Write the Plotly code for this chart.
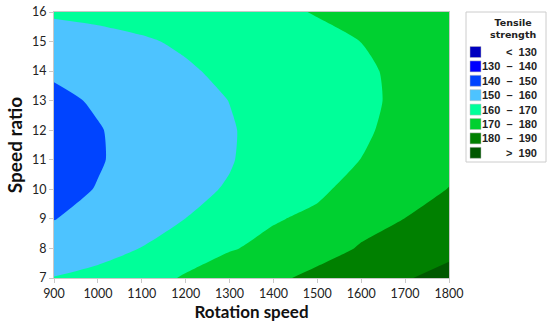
import plotly.graph_objects as go

rotation_speed = [900, 1000, 1100, 1200, 1300, 1400, 1500, 1600, 1700, 1800]
speed_ratio = [7, 8, 9, 10, 11, 12, 13, 14, 15, 16]
# tensile strength, one row per speed ratio (7 -> 16), columns follow rotation_speed
strength = [
    [160.3, 162.7, 164.7, 171.3, 175.5, 178.3, 182.3, 185.5, 189.2, 193.5],
    [153.9, 156.6, 160.2, 163.5, 169.3, 172.5, 176.5, 180.7, 184.5, 187.1],
    [149.8, 152.8, 156.8, 160.05, 163.5, 169.3, 171.8, 177.3, 180.1, 183.4],
    [147.1, 150.4, 154.5, 157.9, 160.7, 166.3, 168.4, 173.2, 176.8, 180.2],
    [146.0, 149.3, 153.2, 156.65, 159.4, 164.2, 166.6, 170.1, 174.2, 177.8],
    [146.3, 149.5, 153.1, 156.4, 159.35, 163.1, 165.8, 168.8, 172.6, 176.0],
    [148.0, 151.0, 154.0, 157.2, 160.1, 163.2, 165.8, 168.3, 171.8, 175.1],
    [151.2, 153.8, 156.0, 159.0, 161.8, 164.2, 166.6, 168.8, 171.7, 174.8],
    [155.9, 158.0, 159.1, 161.2, 164.3, 166.0, 168.2, 170.05, 172.4, 175.2],
    [161.2, 161.6, 163.2, 164.5, 167.5, 168.6, 170.4, 171.8, 173.8, 176.4],
]
band_labels = ["<\u00a0\u00a0130", "130\u00a0\u00a0\u2013\u00a0\u00a0140", "140\u00a0\u00a0\u2013\u00a0\u00a0150",
               "150\u00a0\u00a0\u2013\u00a0\u00a0160", "160\u00a0\u00a0\u2013\u00a0\u00a0170",
               "170\u00a0\u00a0\u2013\u00a0\u00a0180", "180\u00a0\u00a0\u2013\u00a0\u00a0190", ">\u00a0\u00a0190"]
band_colors = ["#0000c0", "#0000ff", "#0044ff", "#4dc3ff",
               "#00ff99", "#00d030", "#008000", "#005800"]
levels_start, levels_end, levels_step = 130, 190, 10

# piecewise-constant colorscale, one flat segment per band
n = len(band_colors)
cscale = []
for k, c in enumerate(band_colors):
    a = max(0.0, (k - 0.5) / (n - 1))
    b = min(1.0, (k + 0.5) / (n - 1))
    if k > 0:
        a += 1e-6
    cscale.append([a, c])
    cscale.append([b, c])

fig = go.Figure()
fig.add_trace(go.Contour(
    x=rotation_speed, y=speed_ratio, z=strength,
    colorscale=cscale, showscale=False,
    contours=dict(start=levels_start, end=levels_end, size=levels_step, coloring="fill"),
    line=dict(width=0, smoothing=0.6),
    hoverinfo="skip",
))

W, H = 550, 325
ml, mr, mt, mb = 54, 101, 12, 47

fig.update_layout(
    width=W, height=H,
    margin=dict(l=ml, r=mr, t=mt, b=mb, autoexpand=False),
    paper_bgcolor="white", plot_bgcolor="white",
    font=dict(family="Lato, Open Sans, sans-serif", color="#222222"),
    xaxis=dict(range=[900, 1800], tickvals=rotation_speed, ticks="outside", ticklen=4,
               tickcolor="#c8c8c8", showline=True, linecolor="#c8c8c8", mirror=True,
               showgrid=False, zeroline=False, automargin=False,
               tickfont=dict(size=12.5, color="#222222"),
               title=dict(text="<b>Rotation speed</b>", font=dict(size=17, color="#111111"), standoff=6)),
    yaxis=dict(range=[7, 16], tickvals=speed_ratio, ticks="outside", ticklen=4,
               tickcolor="#c8c8c8", showline=True, linecolor="#c8c8c8", mirror=True,
               showgrid=False, zeroline=False, automargin=False,
               tickfont=dict(size=12.5, color="#222222"),
               title=dict(text="<b>Speed ratio</b>", font=dict(size=19, color="#111111"), standoff=4)),
)

# manual legend box (paper coordinates via pixel conversion)
def px_x(p):
    return (p - ml) / (W - ml - mr)

def px_y(p):
    return 1 - (p - mt) / (H - mt - mb)

shapes = [dict(type="rect", xref="paper", yref="paper",
               x0=px_x(466), x1=px_x(546), y0=px_y(162), y1=px_y(12),
               line=dict(color="#cccccc", width=1), fillcolor="white")]
annotations = [dict(xref="paper", yref="paper", x=px_x(513), y=px_y(28),
                    text="<b>Tensile<br>strength</b>", showarrow=False,
                    font=dict(size=9.5, family="DejaVu Sans, sans-serif", color="#222222"),
                    xanchor="center", yanchor="middle", align="center")]
row_y0, row_dy = 52, 14.4
for k, (lab, col) in enumerate(zip(band_labels, band_colors)):
    yc = row_y0 + k * row_dy
    shapes.append(dict(type="rect", xref="paper", yref="paper",
                       x0=px_x(470), x1=px_x(481), y0=px_y(yc + 5.5), y1=px_y(yc - 5.5),
                       line=dict(color="#bbbbbb", width=0.5), fillcolor=col))
    annotations.append(dict(xref="paper", yref="paper", x=px_x(539), y=px_y(yc),
                            text="<b>" + lab + "</b>", showarrow=False,
                            font=dict(size=11, family="Liberation Sans, sans-serif", color="#222222"),
                            xanchor="right", yanchor="middle"))
fig.update_layout(shapes=shapes, annotations=annotations)

fig.write_html("out.html", config={"displayModeBar": False},
               post_script="document.body.style.margin='0';document.body.style.padding='0';")
